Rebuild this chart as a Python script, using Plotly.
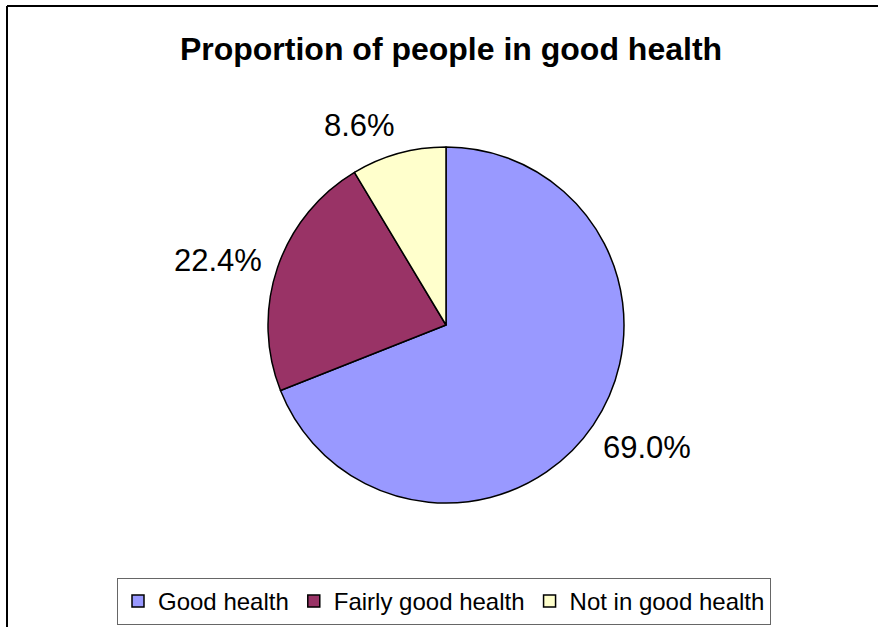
import math
import plotly.graph_objects as go

# Share of respondents by self-reported health status
categories = ["Good health", "Fairly good health", "Not in good health"]
shares = [69.0, 22.4, 8.6]
colors = ["#9999FF", "#993366", "#FFFFCC"]

W, H = 878, 627
cx, cy, r = 446, 325, 178  # pie centre and radius in pixels
LABEL_SIZE = 31
FONT = "Arial, Liberation Sans, sans-serif"
# counter-clockwise nudge (px) applied to each percentage label
label_nudge = [12, 12, 30]

# Approximate Arial advance widths (em) for the characters used in the labels
ADV = {**{d: 0.556 for d in "0123456789"}, ".": 0.278, "%": 0.889}


def text_width(s, size):
    return sum(ADV.get(ch, 0.556) for ch in s) * size


fig = go.Figure(
    go.Pie(
        labels=categories,
        values=shares,
        sort=False,
        direction="clockwise",
        rotation=0,
        marker=dict(colors=colors, line=dict(color="black", width=1.5)),
        textinfo="none",
        domain=dict(
            x=[(cx - r) / W, (cx + r) / W],
            y=[(H - (cy + r)) / H, (H - (cy - r)) / H],
        ),
        hoverinfo="label+percent",
    )
)

# Percentage labels placed just outside the rim, along each slice's mid-angle
total = sum(shares)
annotations = []
cum = 0.0
for v, nudge in zip(shares, label_nudge):
    mid = (cum + v / 2) / total * 2 * math.pi  # clockwise from 12 o'clock
    cum += v
    ux, uy = math.sin(mid), -math.cos(mid)  # radial direction (screen, y down)
    tx, ty = math.cos(mid), math.sin(mid)   # clockwise tangent
    txt = f"{v / total * 100:.1f}%"
    half_w = text_width(txt, LABEL_SIZE) / 2
    half_h = 18
    d = r + 11 + abs(ux) * half_w + abs(uy) * half_h
    px = cx + d * ux - nudge * tx
    py = cy + d * uy - nudge * ty
    annotations.append(
        dict(
            text=txt,
            x=px / W,
            y=1 - py / H,
            xref="paper",
            yref="paper",
            xanchor="center",
            yanchor="middle",
            showarrow=False,
            font=dict(family=FONT, size=LABEL_SIZE, color="black"),
        )
    )

fig.update_layout(
    width=W,
    height=H,
    margin=dict(l=0, r=0, t=0, b=0),
    paper_bgcolor="white",
    plot_bgcolor="white",
    font=dict(family=FONT, color="black"),
    title=dict(
        text="<b>Proportion of people in good health</b>",
        x=451 / W,
        xanchor="center",
        y=1 - 49 / H,
        yanchor="middle",
        font=dict(size=32, color="black"),
    ),
    showlegend=True,
    legend=dict(
        orientation="h",
        x=444 / W,
        xanchor="center",
        y=1 - 578 / H,
        yanchor="top",
        bordercolor="#666666",
        borderwidth=1,
        font=dict(size=24, color="black"),
        itemwidth=30,
        traceorder="normal",
    ),
    annotations=annotations,
    shapes=[
        dict(type="line", xref="paper", yref="paper",
             x0=7 / W, x1=1.0, y0=1 - 6 / H, y1=1 - 6 / H,
             line=dict(color="black", width=2)),
        dict(type="line", xref="paper", yref="paper",
             x0=7 / W, x1=7 / W, y0=1 - 6 / H, y1=0,
             line=dict(color="black", width=2)),
    ],
)

fig.write_html("out.html")
